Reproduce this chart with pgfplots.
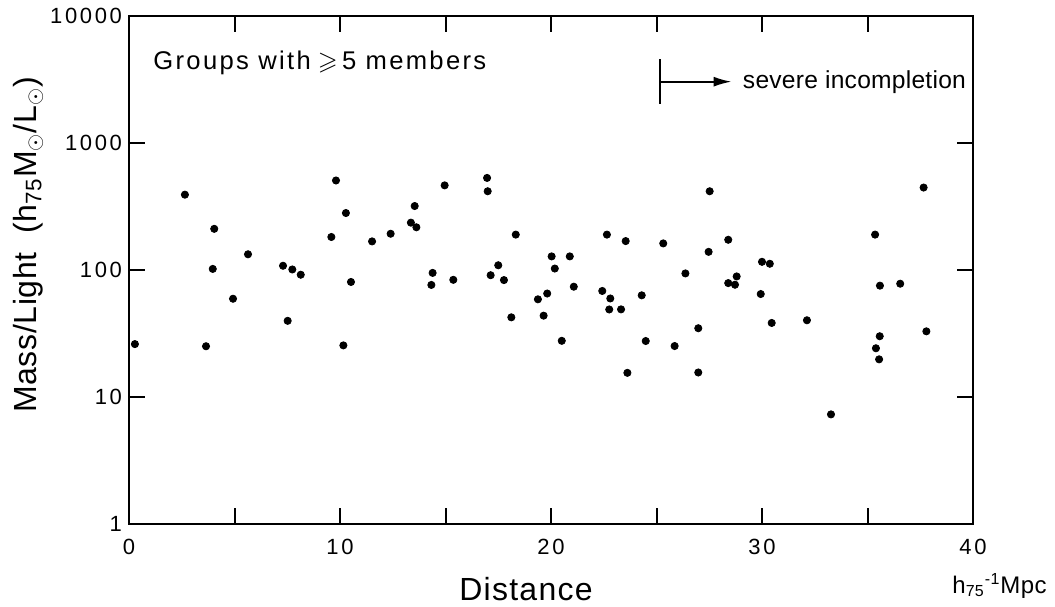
\documentclass[border=0pt]{standalone}
\usepackage{pgfplots}
\pgfplotsset{compat=1.18}
\usetikzlibrary{arrows.meta}
\usepackage{amssymb}
\usepackage{fontspec}
\setmainfont{Liberation Sans}

\pgfplotstableread{
x y
0.28 26.1
2.65 392
3.65 25.1
4.04 211
3.97 102
4.93 59.4
5.64 133
7.30 108
7.52 39.8
7.74 101
8.14 91.8
9.59 182
9.81 507
10.16 25.5
10.28 281
10.52 80.5
11.52 168
12.40 193
13.36 236
13.54 319
13.62 217
14.33 76.3
14.39 94.9
14.96 464
15.37 83.7
16.97 531
17.00 417
17.14 91
17.50 109
17.77 83.3
18.12 42.4
18.33 190
19.38 58.8
19.65 43.7
19.82 65.3
20.03 128
20.18 102.7
20.51 27.7
20.89 128
21.08 73.9
22.43 68.4
22.65 190
22.81 59.7
22.76 48.9
23.32 49
23.54 169
23.62 15.5
24.30 63.2
24.49 27.6
25.32 162
25.86 25.2
26.37 94
26.98 34.8
26.98 15.6
27.47 139
27.52 417
28.40 173
28.40 78.9
28.72 76.6
28.80 89
29.94 64.7
30.00 116
30.37 112
30.46 38.3
32.13 40.2
33.27 7.3
35.36 190
35.40 24.2
35.55 19.8
35.59 75.3
35.58 30.1
36.55 78
37.66 446
37.79 32.9
}\groupdata

\begin{document}
\begin{tikzpicture}
\useasboundingbox (-64.5pt,-41pt) rectangle (463pt,262pt);
\begin{axis}[
  at={(0,0)}, anchor=south west,
  scale only axis, width=422pt, height=254pt,
  xmin=0, xmax=40,
  ymode=log, ymin=1, ymax=10000,
  xtick={0,5,...,40}, xticklabels={0,,10,,20,,30,,40},
  ytick={1,10,100,1000,10000}, yticklabels={1,10,100,1000,10000},
  yminorticks=false,
  tick align=inside, major tick length=8pt,
  axis line style={line width=1pt},
  tick style={line width=1pt, black},
  ticklabel style={font=\fontsize{11}{13}\selectfont\addfontfeature{LetterSpace=12}},
  xticklabel style={yshift=-4pt},
  /pgf/number format/assume math mode=true,
  clip=false,
]
\addplot[only marks, mark=*, mark size=1.8pt, black] table[x=x, y=y] {\groupdata};

\draw[line width=1pt] (axis cs:25.18,2037) -- (axis cs:25.18,4603);
\draw[line width=1pt, -{Latex[length=9pt,width=5pt]}] (axis cs:25.18,3041) -- (axis cs:28.56,3041);
\node[anchor=base west, inner sep=0pt, font=\fontsize{12.3}{14}\selectfont\addfontfeature{LetterSpace=1}] at (axis cs:29.08,2700) {severe incompletion};
\node[anchor=base west, inner sep=0pt, font=\fontsize{12.8}{15}\selectfont\addfontfeature{LetterSpace=9}] at (axis cs:1.14,3758) {Groups with\;$\geqslant$\,5 members};
\end{axis}
\node[rotate=90, font=\fontsize{16}{18}\selectfont\addfontfeature{LetterSpace=2}] at (-50.5pt,139.5pt) {Mass/Light\ \ (h\textsubscript{75}M\textsubscript{$\odot$}/L\textsubscript{$\odot$})};
\node[font=\fontsize{16}{18}\selectfont\addfontfeature{LetterSpace=4}] at (198.5pt,-32.5pt) {Distance};
\node[anchor=base west, inner sep=0pt, font=\fontsize{12}{14}\selectfont\addfontfeature{LetterSpace=2}] at (411.5pt,-34.5pt) {h\textsubscript{75}\textsuperscript{-1}Mpc};
\end{tikzpicture}
\end{document}
